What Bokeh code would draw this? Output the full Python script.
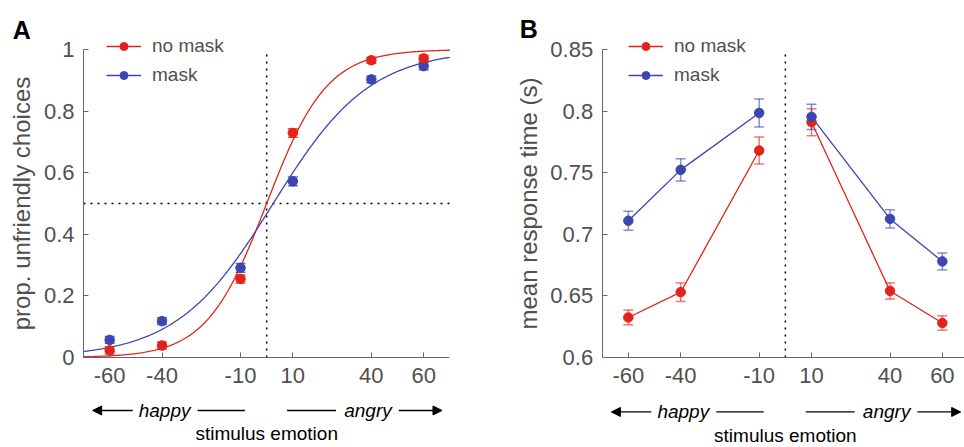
import numpy as np
from bokeh.plotting import figure
from bokeh.layouts import row
from bokeh.models import (FixedTicker, Whisker, TeeHead, Legend, LegendItem,
                          Label, Arrow, NormalHead, ColumnDataSource, LinearAxis)
from bokeh.embed import file_html
from bokeh.resources import INLINE

# ---------------- data ----------------
stimulus = [-60, -40, -10, 10, 40, 60]
tick_labels_x = ["-60", "-40", "-10", "10", "40", "60"]

# Panel A: proportion of unfriendly choices
a_nomask = [0.023, 0.039, 0.255, 0.729, 0.965, 0.971]
a_nomask_err = [0.012, 0.011, 0.013, 0.014, 0.010, 0.010]
a_mask = [0.057, 0.118, 0.291, 0.572, 0.903, 0.946]
a_mask_err = [0.011, 0.011, 0.014, 0.014, 0.011, 0.012]
# logistic fit parameters (midpoint, slope scale)
fit_nomask = [0.0, 11.5]
fit_mask = [2.5, 18.5]

# Panel B: mean response time (s)
b_nomask = [0.6325, 0.653, 0.768, 0.791, 0.654, 0.628]
b_nomask_err = [0.006, 0.0075, 0.011, 0.011, 0.0066, 0.0058]
b_mask = [0.711, 0.7523, 0.7985, 0.7953, 0.7125, 0.678]
b_mask_err = [0.0077, 0.009, 0.0114, 0.0103, 0.0074, 0.0069]

a_yticks = [0, 0.2, 0.4, 0.6, 0.8, 1]
a_ylabels = ["0", "0.2", "0.4", "0.6", "0.8", "1"]
b_yticks = [0.6, 0.65, 0.7, 0.75, 0.8, 0.85]
b_ylabels = ["0.6", "0.65", "0.7", "0.75", "0.8", "0.85"]

RED = "#e2231a"
BLUE = "#3b46b1"
GRAY = "#505050"
AXC = "#666666"
FONT = "Liberation Sans"


def new_fig(xr, yr):
    p = figure(width=482, height=447, x_range=xr, y_range=yr,
               output_backend="svg", toolbar_location=None,
               x_axis_type=None, y_axis_type=None,
               min_border_left=0, min_border_right=0, min_border_top=0, min_border_bottom=0)
    p.xgrid.visible = False
    p.ygrid.visible = False
    p.outline_line_color = None
    return p


def add_axes(p, xbounds, yticks, ylabels, ylabel):
    xa = LinearAxis(fixed_location=yticks[0], bounds=xbounds,
                    ticker=FixedTicker(ticks=stimulus),
                    major_label_overrides={v: l for v, l in zip(stimulus, tick_labels_x)})
    ya = LinearAxis(fixed_location=xbounds[0], bounds=(yticks[0], yticks[-1]),
                    ticker=FixedTicker(ticks=yticks),
                    major_label_overrides={v: l for v, l in zip(yticks, ylabels)})
    for ax in (xa, ya):
        ax.axis_line_color = AXC
        ax.major_tick_line_color = AXC
        ax.major_tick_in = 5
        ax.major_tick_out = 0
        ax.minor_tick_line_color = None
        ax.major_label_text_font = FONT
        ax.major_label_text_font_size = "22px"
        ax.major_label_text_color = GRAY
    xa.major_label_standoff = 10
    ya.major_label_standoff = 9
    ya.axis_label = ylabel
    ya.axis_label_text_font = FONT
    ya.axis_label_text_font_size = "24px"
    ya.axis_label_text_font_style = "normal"
    ya.axis_label_text_color = GRAY
    ya.axis_label_standoff = 6
    p.add_layout(xa, "below")
    p.add_layout(ya, "left")


def add_whiskers(p, x, y, err, color, alpha, size):
    src = ColumnDataSource(dict(x=x, upper=[a + b for a, b in zip(y, err)],
                                lower=[a - b for a, b in zip(y, err)]))
    w = Whisker(source=src, base="x", upper="upper", lower="lower", dimension="height",
                line_color=color, line_alpha=alpha, line_width=1.5,
                upper_head=TeeHead(size=size, line_color=color, line_alpha=alpha, line_width=1.5),
                lower_head=TeeHead(size=size, line_color=color, line_alpha=alpha, line_width=1.5))
    p.add_layout(w)


def add_bottom_text(p, y_arrow, y_label):
    kw = dict(line_color="black", line_width=1.3)
    p.add_layout(Arrow(x_start=-51.2, y_start=y_arrow, x_end=-66.5, y_end=y_arrow,
                       end=NormalHead(size=9, fill_color="black", line_color="black"), **kw))
    p.add_layout(Arrow(x_start=-26.4, y_start=y_arrow, x_end=-8.3, y_end=y_arrow, end=None, **kw))
    p.add_layout(Arrow(x_start=7.8, y_start=y_arrow, x_end=26.5, y_end=y_arrow, end=None, **kw))
    p.add_layout(Arrow(x_start=50.5, y_start=y_arrow, x_end=67.0, y_end=y_arrow,
                       end=NormalHead(size=9, fill_color="black", line_color="black"), **kw))
    for txt, xx in (("happy", -39.0), ("angry", 38.7)):
        p.add_layout(Label(x=xx, y=y_arrow, text=txt, text_align="center", text_baseline="middle",
                           text_font=FONT, text_font_size="19px", text_font_style="italic",
                           text_color="black"))
    p.add_layout(Label(x=0, y=y_label, text="stimulus emotion", text_align="center",
                       text_baseline="middle", text_font=FONT, text_font_size="19px",
                       text_color="black"))


def add_panel_letter(p, x, y, letter):
    p.add_layout(Label(x=x, y=y, text=letter, text_align="left", text_baseline="alphabetic",
                       text_font=FONT, text_font_size="25px", text_font_style="bold",
                       text_color="black"))


def make_legend(p, r_red, r_blue, x_off):
    leg = Legend(items=[LegendItem(label="no mask", renderers=r_red),
                        LegendItem(label="mask", renderers=r_blue)],
                 location=(x_off, 361), orientation="vertical",
                 glyph_width=35, glyph_height=20, label_height=20, label_width=60,
                 spacing=7, padding=0, margin=0, label_standoff=11,
                 label_text_font=FONT, label_text_font_size="19px", label_text_color=GRAY,
                 border_line_color=None, background_fill_alpha=0)
    p.add_layout(leg)


# ---------------- panel A ----------------
pa = new_fig((-101.72, 82.48), (-0.2922, 1.1591))
add_axes(pa, (-70, 70), a_yticks, a_ylabels, "prop. unfriendly choices")

pa.segment(x0=[0, -70], y0=[0, 0.5], x1=[0, 70], y1=[1, 0.5], line_color="black",
           line_width=1.5, line_dash="2 5")

xs = np.linspace(-70, 70, 281)
curve_red = 1.0 / (1.0 + np.exp(-(xs - fit_nomask[0]) / fit_nomask[1]))
curve_blue = 1.0 / (1.0 + np.exp(-(xs - fit_mask[0]) / fit_mask[1]))
lr = pa.line(xs, curve_red, line_color=RED, line_width=1.3)
lb = pa.line(xs, curve_blue, line_color=BLUE, line_width=1.3)

add_whiskers(pa, stimulus, a_mask, a_mask_err, BLUE, 0.8, 10)
add_whiskers(pa, stimulus, a_nomask, a_nomask_err, RED, 0.8, 10)
sb = pa.scatter(stimulus, a_mask, size=9.5, color=BLUE)
sr = pa.scatter(stimulus, a_nomask, size=9.5, color=RED)

make_legend(pa, [lr, sr], [lb, sb], 106)
add_bottom_text(pa, -0.172, -0.248)
add_panel_letter(pa, -97, 1.062, "A")

# ---------------- panel B ----------------
pb = new_fig((-115.74, 68.46), (0.52695, 0.88977))
add_axes(pb, (-70, 70), b_yticks, b_ylabels, "mean response time (s)")

pb.segment(x0=[0], y0=[0.6], x1=[0], y1=[0.85], line_color="black",
           line_width=1.5, line_dash="2 5")

add_whiskers(pb, stimulus, b_nomask, b_nomask_err, RED, 0.6, 10)
add_whiskers(pb, stimulus, b_mask, b_mask_err, BLUE, 0.6, 10)

lbr1 = pb.line(stimulus[:3], b_nomask[:3], line_color=RED, line_width=1.3)
pb.line(stimulus[3:], b_nomask[3:], line_color=RED, line_width=1.3)
lbb1 = pb.line(stimulus[:3], b_mask[:3], line_color=BLUE, line_width=1.3)
pb.line(stimulus[3:], b_mask[3:], line_color=BLUE, line_width=1.3)
sbr = pb.scatter(stimulus, b_nomask, size=9.5, color=RED)
sbb = pb.scatter(stimulus, b_mask, size=9.5, color=BLUE)

make_legend(pb, [lbr1, sbr], [lbb1, sbb], 146)
add_bottom_text(pb, 0.5558, 0.5369)
add_panel_letter(pb, -101.5, 0.8665, "B")

layout = row(pa, pb)
open("out.html", "w").write(file_html(layout, INLINE))
